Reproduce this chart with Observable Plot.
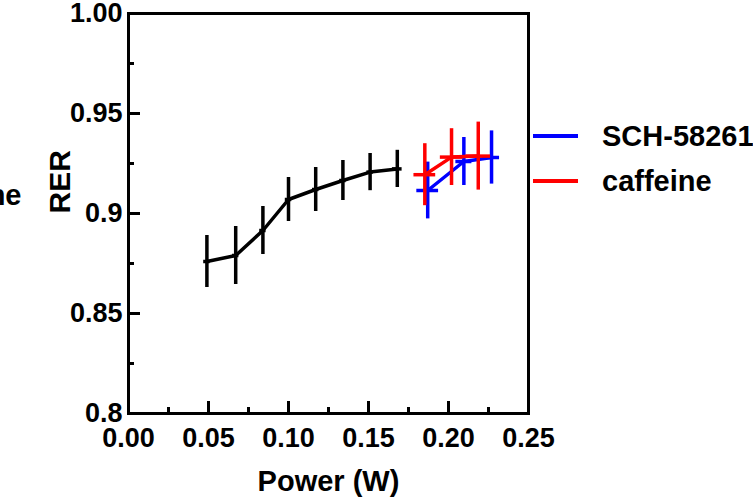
<!DOCTYPE html>
<html><head><meta charset="utf-8">
<script src="https://cdn.jsdelivr.net/npm/d3@7"></script>
<script src="https://cdn.jsdelivr.net/npm/@observablehq/plot@0.6"></script>
<style>body{margin:0;background:#fff;}</style>
</head><body><div id="chart"></div>
<script>
// Control (black) series
const ctrlPower    = [0.049, 0.067, 0.084, 0.100, 0.117, 0.134, 0.151, 0.168];
const ctrlPowerErr = [0.002, 0.002, 0.002, 0.002, 0.002, 0.002, 0.002, 0.003];
const ctrlRER      = [0.876, 0.879, 0.8915, 0.907, 0.912, 0.9165, 0.9207, 0.9223];
const ctrlRERErr   = [0.013, 0.0145, 0.012, 0.011, 0.011, 0.010, 0.0093, 0.0093];
// SCH-58261 (blue)
const schPower     = [0.187, 0.2096, 0.2269];
const schPowerErr  = [0.0068, 0.005, 0.005];
const schRER       = [0.9115, 0.926, 0.928];
const schRERErr    = [0.0142, 0.012, 0.0133];
// caffeine (red)
const cafPower     = [0.1852, 0.2019, 0.2186];
const cafPowerErr  = [0.0068, 0.007, 0.0077];
const cafRER       = [0.9194, 0.9282, 0.9287];
const cafRERErr    = [0.0155, 0.0142, 0.017];

const xMajor = [0, 0.05, 0.10, 0.15, 0.20, 0.25];
const xMinor = [0.025, 0.075, 0.125, 0.175, 0.225];
const yMajor = [0.8, 0.85, 0.9, 0.95, 1.0];
const yMajorLabels = ["0.8", "0.85", "0.9", "0.95", "1.00"];
const yMinor = [0.825, 0.875, 0.925, 0.975];
const xLabel = "Power (W)";
const yLabel = "RER";
const seriesNames = ["SCH-58261", "caffeine"];
const seriesColors = ["#0000ff", "#ff0000"];
const leftCutText = "caffeine";

function rows(p, pe, r, re) {
  return p.map((x, i) => ({x, xe: pe[i], y: r[i], ye: re[i]}));
}
const ctrl = rows(ctrlPower, ctrlPowerErr, ctrlRER, ctrlRERErr);
const sch = rows(schPower, schPowerErr, schRER, schRERErr);
const caf = rows(cafPower, cafPowerErr, cafRER, cafRERErr);

const yLab = new Map(yMajor.map((v, i) => [v, yMajorLabels[i]]));
const font = "'Liberation Sans', Arial, sans-serif";
const SW = 3.5;

function series(data, color) {
  return [
    Plot.ruleX(data, {x: "x", y1: d => d.y - d.ye, y2: d => d.y + d.ye, stroke: color, strokeWidth: SW}),
    Plot.ruleY(data, {y: "y", x1: d => d.x - d.xe, x2: d => d.x + d.xe, stroke: color, strokeWidth: SW}),
    Plot.line(data, {x: "x", y: "y", stroke: color, strokeWidth: SW})
  ];
}

const plot = Plot.plot({
  width: 753, height: 498,
  marginLeft: 128, marginRight: 225, marginTop: 13, marginBottom: 85,
  style: {fontFamily: font, fontWeight: "bold", color: "black", background: "white"},
  x: {domain: [0, 0.25]},
  y: {domain: [0.8, 1.0]},
  marks: [
    ...series(ctrl, "black"),
    ...series(sch, seriesColors[0]),
    ...series(caf, seriesColors[1]),
    Plot.axisX({ticks: xMajor, tickSize: 0, tickPadding: 14, tickFormat: d3.format(".2f"), fontSize: 27, label: null}),
    Plot.axisX({ticks: xMajor, tickSize: -12, tickFormat: () => "", label: null, strokeWidth: 3}),
    Plot.axisX({ticks: xMinor, tickSize: -6, tickFormat: () => "", label: null, strokeWidth: 3}),
    Plot.axisY({ticks: yMajor, tickSize: 0, tickPadding: 6, tickFormat: d => yLab.get(d), fontSize: 27, label: null}),
    Plot.axisY({ticks: yMajor, tickSize: -12, tickFormat: () => "", label: null, strokeWidth: 3}),
    Plot.axisY({ticks: yMinor, tickSize: -6, tickFormat: () => "", label: null, strokeWidth: 3}),
    Plot.frame({stroke: "black", strokeWidth: 3}),
    Plot.text([xLabel], {frameAnchor: "bottom", dy: 68, lineAnchor: "middle", fontSize: 29, fill: "black"}),
    Plot.text([yLabel], {frameAnchor: "left", dx: -68, rotate: -90, lineAnchor: "middle", fontSize: 30, fill: "black"}),
    Plot.text([leftCutText], {frameAnchor: "left", dx: -107, dy: -18, textAnchor: "end", lineAnchor: "middle", fontSize: 29, fill: "black"})
  ]
});

// Legend on the right
const svg = d3.select(plot);
const leg = svg.append("g").attr("font-family", font).attr("font-weight", "bold")
  .attr("font-size", 29).attr("text-anchor", "start");
seriesNames.forEach((name, i) => {
  const cy = 136 + i * 45;
  leg.append("line").attr("x1", 533).attr("x2", 578).attr("y1", cy).attr("y2", cy)
    .attr("stroke", seriesColors[i]).attr("stroke-width", 4);
  leg.append("text").attr("x", 602).attr("y", cy).attr("dy", "0.36em").attr("fill", "black").text(name);
});

document.getElementById("chart").appendChild(plot);
</script>
</body></html>
